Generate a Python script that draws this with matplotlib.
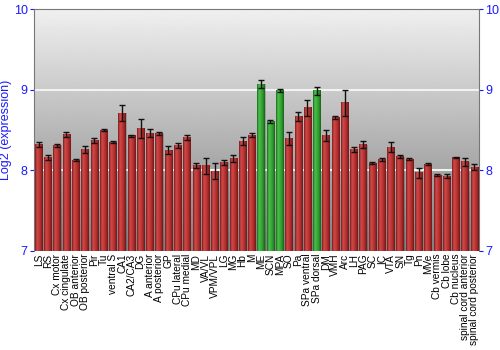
import numpy as np
import matplotlib
matplotlib.use("Agg")
import matplotlib.pyplot as plt
from matplotlib.colors import LinearSegmentedColormap

plt.rcParams['font.family'] = ['Liberation Sans', 'DejaVu Sans']

# ==========================
# DATOS
# ==========================
regiones = [
    "LS", "RS", "Cx motor", "Cx cingulate", "OB anterior", "OB posterior",
    "Pir", "Tu", "ventral S", "CA1", "CA2/CA3", "DG", "A anterior",
    "A posterior", "GP", "CPu lateral", "CPu medial", "MD", "VA/VL",
    "VPM/VPL", "LG", "MG", "Hb", "M", "ME", "SCN", "MPA", "SO", "Pa",
    "SPa ventral", "SPa dorsal", "DM", "VMH", "Arc", "LH", "PAG", "SC",
    "IC", "VTA", "SN", "Tg", "Pn", "MVe", "Cb vermis", "Cb lobe",
    "Cb nucleus", "spinal cord anterior", "spinal cord posterior",
]

valores = [
    8.32, 8.16, 8.31, 8.45, 8.13, 8.26,
    8.37, 8.50, 8.35, 8.71, 8.43, 8.52, 8.46,
    8.46, 8.25, 8.31, 8.41, 8.06, 8.06,
    7.99, 8.10, 8.15, 8.36, 8.44, 9.07, 8.61, 8.99, 8.40, 8.67,
    8.78, 8.99, 8.43, 8.66, 8.84, 8.26, 8.32, 8.09,
    8.14, 8.29, 8.17, 8.14, 7.97, 8.08, 7.94, 7.93,
    8.16, 8.11, 8.04,
]

errores = [
    0.03, 0.03, 0.02, 0.03, 0.01, 0.04,
    0.03, 0.01, 0.01, 0.10, 0.01, 0.12, 0.05,
    0.02, 0.05, 0.03, 0.03, 0.03, 0.10,
    0.10, 0.03, 0.04, 0.05, 0.03, 0.05, 0.02, 0.02, 0.08, 0.05,
    0.10, 0.05, 0.07, 0.02, 0.16, 0.03, 0.04, 0.01,
    0.02, 0.06, 0.02, 0.01, 0.06, 0.01, 0.01, 0.02,
    0.01, 0.05, 0.04,
]

destacadas = ["ME", "SCN", "MPA", "SPa dorsal"]

# ==========================
# GRAFICO
# ==========================
fig = plt.figure(figsize=(5, 3.5), dpi=100)
ax = fig.add_axes([0.068, 0.283, 0.89, 0.69])

ymin, ymax = 7, 10
n = len(regiones)
x = np.arange(n)
ancho = 0.8

ax.set_xlim(-0.5, n - 0.5)
ax.set_ylim(ymin, ymax)

# fondo con degradado
fondo = np.linspace(0.94, 0.50, 256).reshape(-1, 1)
ax.imshow(fondo, cmap="gray", vmin=0, vmax=1, aspect="auto",
          extent=[-0.5, n - 0.5, ymin, ymax], origin="upper", zorder=0)

for yv in [8, 9]:
    ax.axhline(yv, color="#f2f2f2", lw=1.5, zorder=1)

rojo = LinearSegmentedColormap.from_list(
    "rojo", ["#7a1c1c", "#d04a4a", "#c23a3a", "#a82a2a", "#6e1818"])
verde = LinearSegmentedColormap.from_list(
    "verde", ["#1c6a1c", "#4cbf4c", "#3aad3a", "#2a962a", "#186018"])
grad = np.linspace(0, 1, 64).reshape(1, -1)

for i, (r, v) in enumerate(zip(regiones, valores)):
    cm = verde if r in destacadas else rojo
    # sombra
    ax.bar(i + 0.08, v - ymin, width=ancho, bottom=ymin,
           color="#000000", alpha=0.18, zorder=2, lw=0)
    ax.imshow(grad, cmap=cm, aspect="auto",
              extent=[i - ancho / 2, i + ancho / 2, ymin, v], zorder=3)

ax.errorbar(x, valores, yerr=errores, fmt="none", ecolor="#111111",
            elinewidth=1, capsize=2.5, capthick=1, zorder=4)

ax.set_xticks(x)
ax.set_xticklabels(regiones, rotation=90, fontsize=7.3)
ax.tick_params(axis="x", length=0, pad=2)

ax.set_yticks([7, 8, 9, 10])
ax.tick_params(axis="y", colors="#1a1aff", labelsize=9, length=3, pad=1.5,
               left=True, right=True, labelleft=True, labelright=True)
for t in ax.get_yticklines():
    t.set_color("#444444")
ax.set_ylabel("Log2 (expression)", color="#1a1aff", fontsize=9, labelpad=1)

for s in ax.spines.values():
    s.set_color("#777777")
ax.spines["bottom"].set_visible(False)

fig.savefig("out.png", dpi=100)
plt.close()
